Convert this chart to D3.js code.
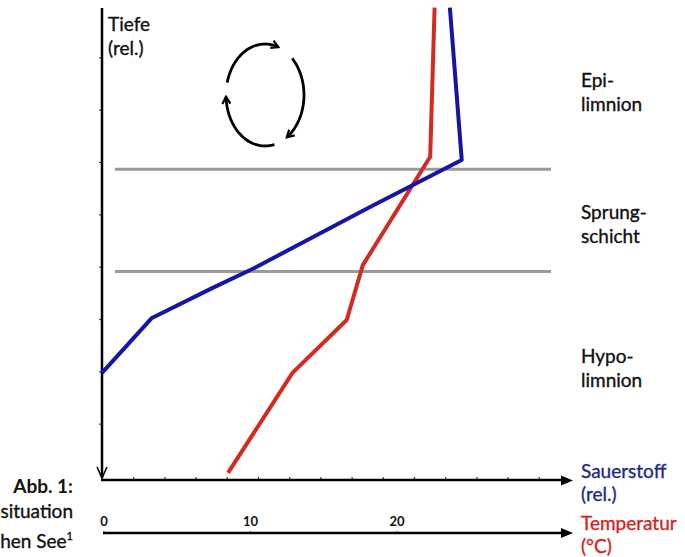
<!DOCTYPE html>
<html><head><meta charset="utf-8">
<script src="https://cdn.jsdelivr.net/npm/d3@7"></script>
<style>body{margin:0;background:#fff}svg{display:block}</style>
</head><body>
<svg id="chart" width="685" height="557"></svg>
<script>
// ---- data ----
const depthTicks = [1, 2, 3, 4, 5, 6, 7, 8];
const oxygenTicks = [1, 2, 3, 4, 5, 6, 7, 8, 9, 10, 11, 12, 13, 14];
const tempTicks = [0, 10, 20];
const oxygenDepth = [0.05, 2.96, 3.86, 5.03, 5.41, 5.98, 7.03];
const oxygenValue = [11.15, 11.53, 8.59, 4.87, 3.53, 1.6, 0.0];
const tempDepth = [0.05, 2.9, 4.97, 6.02, 7.03, 8.94];
const tempValue = [22.6, 22.3, 17.7, 16.6, 12.9, 8.5];
const layerBounds = [3.14, 5.09];
const layerLabels = [["Epi-", "limnion"], ["Sprung-", "schicht"], ["Hypo-", "limnion"]];
const layerLabelDepth = [1.66, 4.19, 6.94];

const svg = d3.select("#chart");
const font = "Lato, 'Open Sans', sans-serif";

const y = d3.scaleLinear([0, 9], [5, 476]);
const xO = d3.scaleLinear([0, 15], [102, 570]);
const xT = d3.scaleLinear([0, 32], [103.5, 572.3]);

// gray layer boundaries
svg.selectAll("line.layer").data(layerBounds).join("line")
  .attr("x1", 115).attr("x2", 551)
  .attr("y1", d => y(d)).attr("y2", d => y(d))
  .attr("stroke", "#9a9a9a").attr("stroke-width", 3);

// y axis ticks
const yAx = svg.append("g").attr("transform", "translate(102,0)")
  .call(d3.axisLeft(y).tickValues(depthTicks).tickSize(3).tickFormat(""));
yAx.select(".domain").remove();
yAx.selectAll("line").attr("stroke", "#444").attr("stroke-width", 1.2);

// y axis line + open arrow
svg.append("line").attr("x1", 102).attr("x2", 102).attr("y1", 8).attr("y2", 478)
  .attr("stroke", "#000").attr("stroke-width", 2.5);
svg.append("path").attr("d", "M97,467 L102,478 L107,467")
  .attr("fill", "none").attr("stroke", "#000").attr("stroke-width", 1.6);

// oxygen axis
const oAx = svg.append("g").attr("transform", "translate(0,480)")
  .call(d3.axisTop(xO).tickValues(oxygenTicks).tickSize(3).tickFormat(""));
oAx.select(".domain").remove();
oAx.selectAll("line").attr("stroke", "#444").attr("stroke-width", 1.2);
svg.append("line").attr("x1", 101).attr("x2", 563).attr("y1", 480).attr("y2", 480)
  .attr("stroke", "#000").attr("stroke-width", 2.5);
svg.append("path").attr("d", "M561,475.5 L573,480.5 L561,485.5 Z").attr("fill", "#000");

// temperature axis
const tAx = svg.append("g").attr("transform", "translate(0,533)")
  .call(d3.axisTop(xT).tickValues(tempTicks).tickSize(2).tickPadding(5).tickFormat(d3.format("d")));
tAx.select(".domain").remove();
tAx.selectAll("line").attr("stroke", "#444");
tAx.selectAll("text").attr("font-family", font).attr("font-size", 13)
  .attr("font-weight", "bold").attr("fill", "#111").attr("dy", "0");
svg.append("line").attr("x1", 103).attr("x2", 563).attr("y1", 533).attr("y2", 533)
  .attr("stroke", "#000").attr("stroke-width", 2.5);
svg.append("path").attr("d", "M561,528 L573,533 L561,538 Z").attr("fill", "#000");

// data lines
const lineO = d3.line().x((d, i) => xO(oxygenValue[i])).y((d, i) => y(oxygenDepth[i]));
const lineT = d3.line().x((d, i) => xT(tempValue[i])).y((d, i) => y(tempDepth[i]));
svg.append("path").attr("d", lineT(tempDepth)).attr("fill", "none")
  .attr("stroke", "#d32a22").attr("stroke-width", 4).attr("stroke-linejoin", "round");
svg.append("path").attr("d", lineO(oxygenDepth)).attr("fill", "none")
  .attr("stroke", "#1616a6").attr("stroke-width", 4).attr("stroke-linejoin", "round");

// circulation arrows
const cx = 265, cy = 95, rx = 39, ry = 51;
const arcs = [[194, 292], [314, 418], [76, 178]];
svg.append("defs").append("marker").attr("id", "oa")
  .attr("viewBox", "0 0 10 10").attr("refX", 8).attr("refY", 5)
  .attr("markerWidth", 10).attr("markerHeight", 10).attr("markerUnits", "userSpaceOnUse")
  .attr("orient", "auto")
  .append("path").attr("d", "M1,1 L8,5 L1,9").attr("fill", "none")
  .attr("stroke", "#000").attr("stroke-width", 2.2);
arcs.forEach(([a0, a1]) => {
  const pts = d3.range(a0, a1 + 0.1, 3).map(a => {
    const t = a * Math.PI / 180;
    return [cx + rx * Math.cos(t), cy + ry * Math.sin(t)];
  });
  svg.append("path").attr("d", d3.line().curve(d3.curveBasis)(pts))
    .attr("fill", "none").attr("stroke", "#000").attr("stroke-width", 2.8)
    .attr("marker-end", "url(#oa)");
});

// texts
const txt = (x, yy, s, opts = {}) => {
  const f = opts.fill || "#111";
  return svg.append("text").attr("x", x).attr("y", yy)
    .attr("font-family", font).attr("font-size", opts.size || 19)
    .attr("font-weight", opts.weight || "normal")
    .attr("fill", f).attr("stroke", f).attr("stroke-width", opts.weight ? 0 : 0.35)
    .attr("text-anchor", opts.anchor || "start").text(s);
};

txt(108, 31, "Tiefe");
txt(108, 55, "(rel.)");

layerLabels.forEach((lab, i) => {
  const yc = y(layerLabelDepth[i]);
  txt(581, yc - 5, lab[0]);
  txt(581, yc + 19, lab[1]);
});

txt(581, 478, "Sauerstoff", {fill: "#202a8c"});
txt(581, 501, "(rel.)", {fill: "#202a8c"});
txt(581, 530, "Temperatur", {fill: "#d4241e"});
txt(581, 553, "(°C)", {fill: "#d4241e"});

txt(73, 493, "Abb. 1:", {anchor: "end", weight: "bold"});
txt(73, 518, "situation", {anchor: "end"});
const t3 = txt(73, 548, "hen See", {anchor: "end"});
t3.append("tspan").attr("font-size", 11).attr("dy", -8).text("1");
</script>
</body></html>
